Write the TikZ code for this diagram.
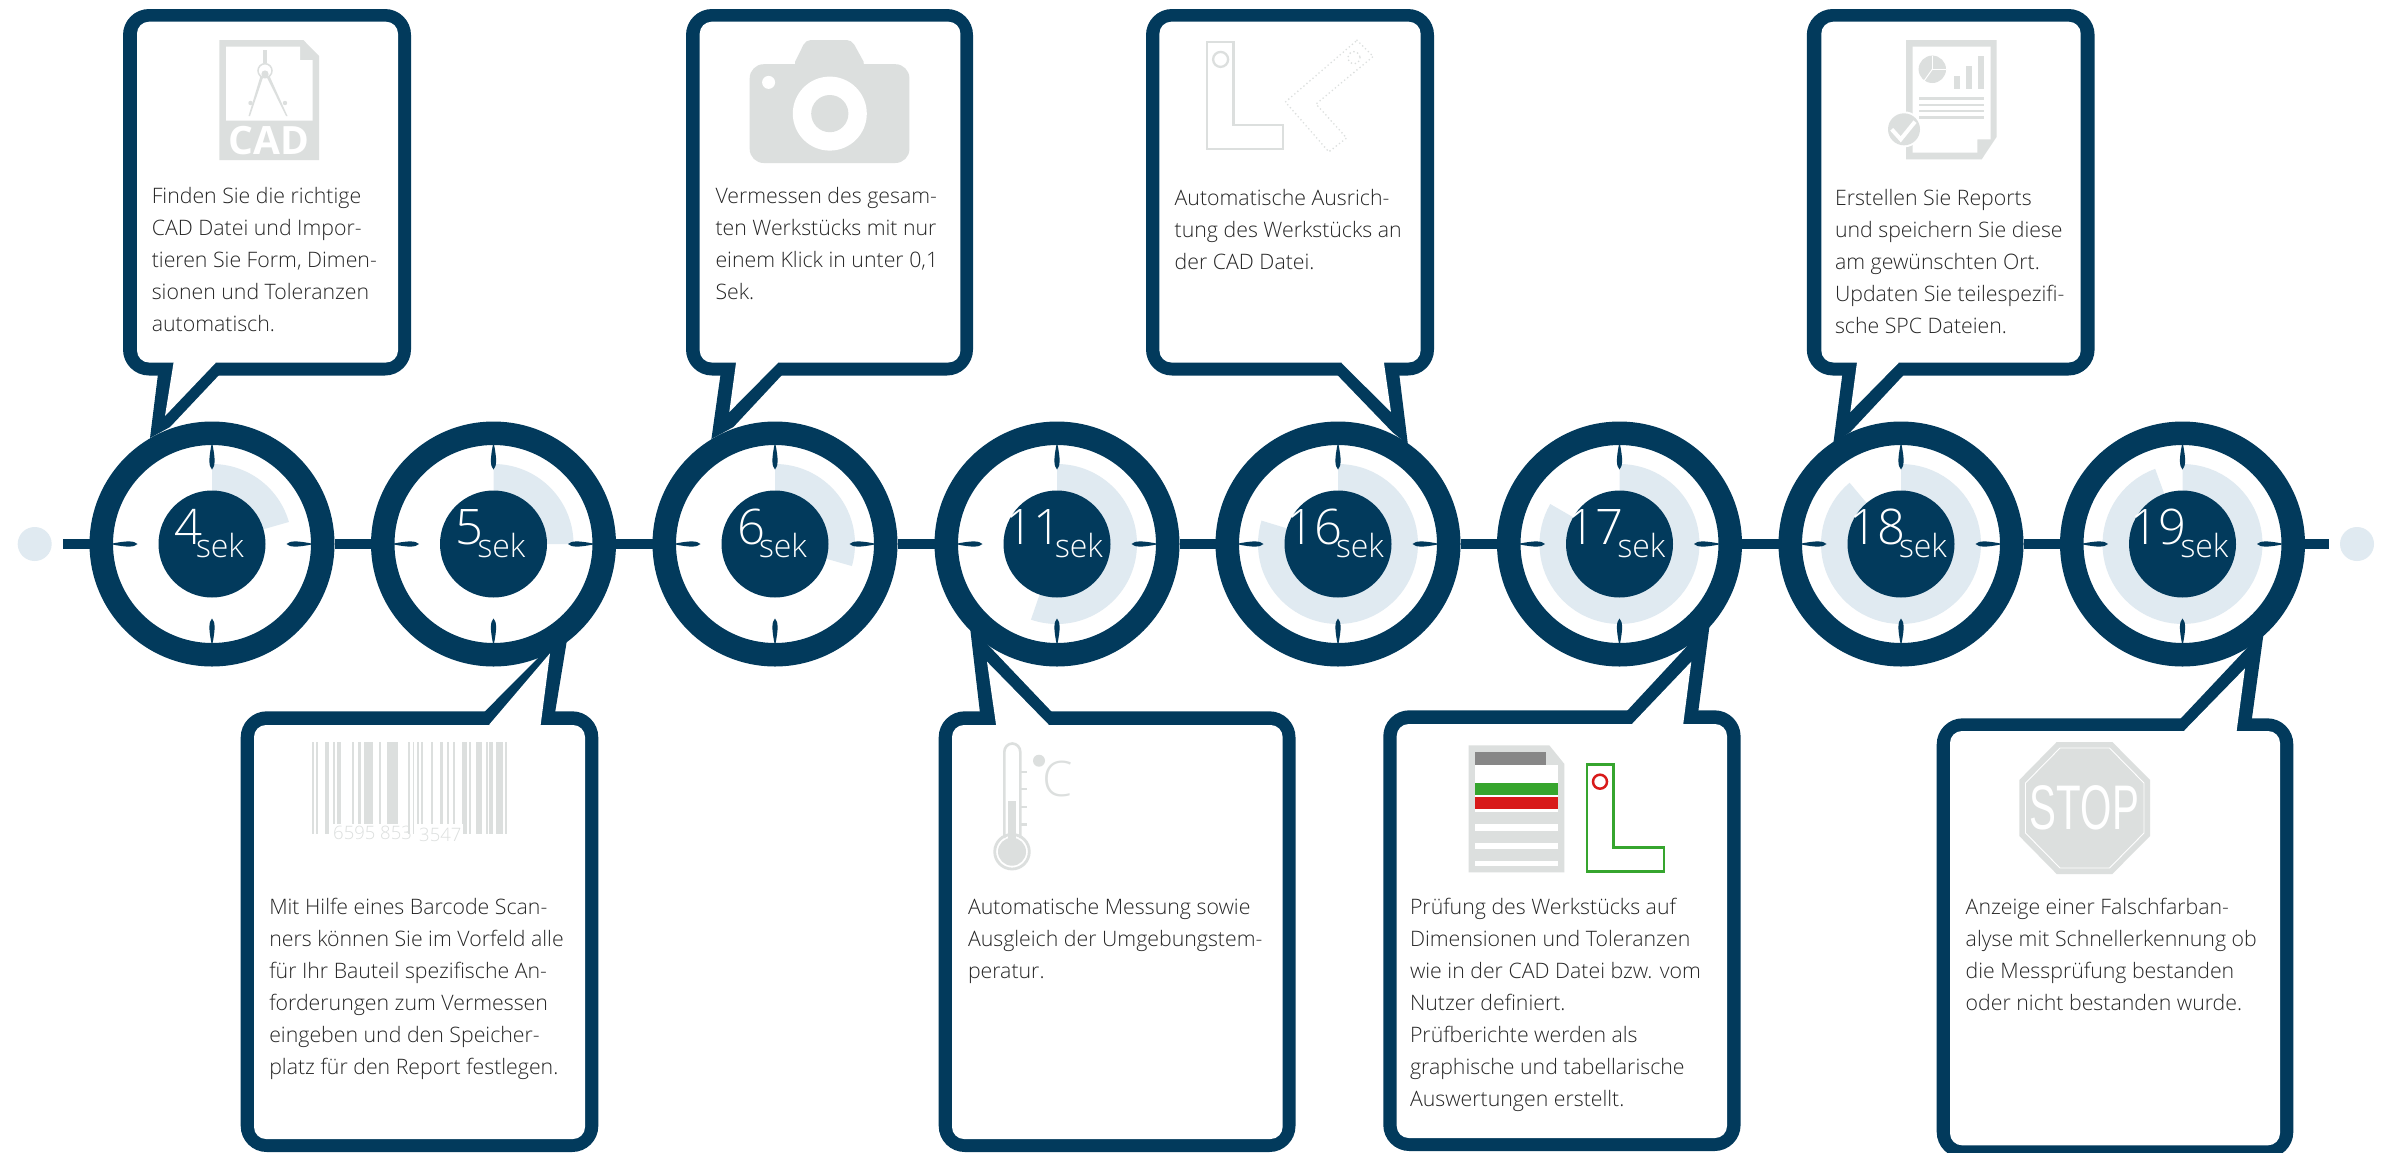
\documentclass[tikz,border=0pt]{standalone}
\usepackage{fontspec}
\setmainfont{Open Sans Light}
\newfontfamily\osbold{Open Sans Bold}
\newfontfamily\ossans{Liberation Sans}
\definecolor{navy}{HTML}{023A5C}
\definecolor{lightblue}{HTML}{E0EAF1}
\definecolor{icongray}{HTML}{DCDFDE}
\definecolor{bodygray}{HTML}{262626}
\definecolor{repgray}{HTML}{878787}
\definecolor{repgreen}{HTML}{36A52E}
\definecolor{repred}{HTML}{D81A1A}
\tikzset{
  ringnode/.style={circle,draw=navy,fill=white,line width=23.5pt,minimum size=221.5pt,inner sep=0pt},
  corenode/.style={circle,fill=navy,minimum size=107pt,inner sep=0pt,outer sep=0pt},
  enddot/.style={circle,fill=lightblue,minimum size=34pt,inner sep=0pt,outer sep=0pt},
  timeline/.style={draw=navy,line width=10.5pt},
  timetext/.style={anchor=base,text=white,inner sep=0pt},
  bodytext/.style={anchor=north west,align=left,inner sep=0pt,outer sep=0pt,text=bodygray,font=\fontsize{21.3}{32}\selectfont},
  iconfill/.style={fill=icongray},
  iconline/.style={draw=icongray,line width=2.3pt},
  icondots/.style={draw=icongray,line cap=round,dash pattern=on 0pt off 4pt,line width=1.8pt},
}
\newcommand{\callout}[9]{%
  \fill[navy,rounded corners=26pt] (#1,#2) rectangle (#3,#4);
  \fill[navy] #5 -- cycle;
  \fill[white,rounded corners=12pt] (#6,#7) rectangle (#8,#9);
}
\newcommand{\bodytxt}[4]{\node[bodytext] (#1) at (#2,#3-22) {\rule{0pt}{22pt}#4};}
\begin{document}
\begin{tikzpicture}[x=1pt,y=-1pt]
\useasboundingbox (0,0) rectangle (2386,1152);
\clip (0,0) rectangle (2386,1152);
\fill[white] (0,0) rectangle (2386,1152);

% ---------- callouts, top row
\callout{123}{9}{411}{375.5}{(158,374) -- (150,438) -- (170,427) -- (220,374)}{137}{21.7}{398}{362.5}
\fill[white] (173.5,350) -- (173.5,363) -- (165,416) -- (215.5,363) -- (215.5,350) -- cycle;
\callout{686}{9}{973}{375.5}{(720.6,374) -- (711.4,439) -- (733.4,427) -- (782.9,374)}{699.7}{21.7}{960.4}{362.5}
\fill[white] (736,350) -- (736,363) -- (729.3,412) -- (777.8,363) -- (777.8,350) -- cycle;
\callout{1146}{9}{1434}{375.5}{(1336.4,374) -- (1392.6,432.3) -- (1407.9,444.5) -- (1399.2,374)}{1159.4}{21.7}{1420.6}{362.5}
\fill[white] (1341.5,350) -- (1341.5,363) -- (1391,412) -- (1384,363) -- (1384,350) -- cycle;
\callout{1806.8}{9}{2094.6}{375.5}{(1842.4,374) -- (1833.4,443) -- (1850.3,432) -- (1904.6,374)}{1821.3}{21.7}{2080.7}{362.5}
\fill[white] (1856.9,350) -- (1856.9,363) -- (1850.3,412) -- (1898.5,363) -- (1898.5,350) -- cycle;

% ---------- callouts, bottom row
\callout{240.7}{711.3}{598.3}{1152}{(483.3,713) -- (540,656) -- (566.7,641.7) -- (555,713)}{254}{725}{585}{1139}
\fill[white] (489.3,735) -- (489.3,724.5) -- (550,653.3) -- (540.7,724.5) -- (540.7,735) -- cycle;
\callout{938.7}{711.3}{1295.5}{1152}{(1052.8,713) -- (989,646) -- (970,627) -- (980,713)}{952}{725}{1282.6}{1139}
\fill[white] (996,735) -- (996,724.5) -- (987,661.7) -- (1048.5,724.5) -- (1048.5,735) -- cycle;
\callout{1383.3}{710.3}{1740.6}{1151}{(1626,712) -- (1691.3,641.7) -- (1709.7,624.5) -- (1698.2,712)}{1396.7}{724}{1727}{1138}
\fill[white] (1632.4,735) -- (1632.4,723.5) -- (1691.3,661.7) -- (1683.3,723.5) -- (1683.3,735) -- cycle;
\callout{1936.7}{718.3}{2293.3}{1158}{(2179.3,720) -- (2248.3,646.7) -- (2263.5,634) -- (2251.7,720)}{1950}{731}{2280}{1145.3}
\fill[white] (2184.3,740) -- (2184.3,730.5) -- (2245,668.3) -- (2236.7,730.5) -- (2236.7,740) -- cycle;

% ---------- CAD icon
\fill[iconfill] (219.3,40) -- (303.3,40) -- (319,56) -- (319,160) -- (219.3,160) -- cycle;
\fill[white] (226,46.7) -- (300,46.7) -- (300,60) -- (312.7,60) -- (312.7,120.7) -- (226,120.7) -- cycle;
\fill[iconfill] (263.3,50) rectangle (267.3,63.3);
\draw[iconline,line width=1.5pt] (265,70.7) circle[radius=7];
\fill[iconfill] (265,74) circle[radius=3.6];
\fill[iconfill] (260.5,76) -- (263,77.5) -- (250,116) -- (248.5,116) -- cycle;
\fill[iconfill] (267,77.5) -- (269.5,76) -- (287.5,116) -- (286,116) -- cycle;
\fill[iconfill] (250.5,103) circle[radius=2.2];
\fill[iconfill] (285,103) circle[radius=2.2];
\node[anchor=base,text=white,inner sep=0pt] (cadlabel) at (269,154) {\osbold\fontsize{39}{39}\selectfont CAD};

% ---------- camera icon
\fill[iconfill,rounded corners=14pt] (749.7,64.2) rectangle (909.4,163);
\fill[iconfill,rounded corners=5pt] (793,66) -- (805.8,40) -- (851.7,40) -- (866,66) -- cycle;
\fill[white] (829.8,113.6) circle[radius=37];
\fill[iconfill] (829.8,113.6) circle[radius=18.6];
\fill[white] (768.6,82.4) circle[radius=6.5];

% ---------- part icon (16)
\draw[iconline] (1207.3,42) -- (1233.4,42) -- (1233.4,125) -- (1282.9,125) -- (1282.9,148.7) -- (1207.3,148.7) -- cycle;
\draw[iconline] (1220.6,59.4) circle[radius=7.5];
\draw[icondots] (1357,40.3) -- (1373.2,56.4) -- (1316,104) -- (1346.6,138) -- (1328.8,151.8) -- (1285.4,102) -- cycle;
\draw[icondots] (1354,57.7) circle[radius=6];

% ---------- report icon (18)
\fill[iconfill] (1906,40) -- (1996.7,40) -- (1996.7,136.7) -- (1981.7,159.3) -- (1906,159.3) -- cycle;
\fill[white] (1912.7,46.7) -- (1990.7,46.7) -- (1990.7,139.3) -- (1977.3,139.3) -- (1977.3,152.7) -- (1912.7,152.7) -- cycle;
\fill[iconfill] (1932.3,69.3) circle[radius=13.7];
\draw[white,line width=1pt] (1932.3,55.6) -- (1932.3,69.3) -- (1946,69.3);
\draw[white,line width=1pt] (1932.3,69.3) -- (1924,81);
\fill[iconfill] (1954,76) rectangle (1960,88.7);
\fill[iconfill] (1966,66) rectangle (1972,88.7);
\fill[iconfill] (1978,56) rectangle (1984,88.7);
\foreach \ly in {98.3,105,111,117.3} \fill[iconfill] (1919,\ly-1.25) rectangle (1984,\ly+1.25);
\fill[white] (1904,129.3) circle[radius=18];
\fill[iconfill] (1904,129.3) circle[radius=16];
\draw[white,line width=4pt] (1891.7,129.3) -- (1900.7,139.3) -- (1915,121.7);

% ---------- barcode icon (5)
\foreach \ba/\bb in {37/43,49/55,76/88,100/106,112/123,157/163,175/184,193/219,236/243,262/295,325/331,338/343,351/358,363/369,393/400,421/428,441/448,460/465,485/502,506/513,527/547,558/563,568/578,589/610,615/621}
  \fill[iconfill] ({300+\ba/3},742) rectangle ({300+\bb/3},833.7);
\fill[white] (331.7,823.7) rectangle (405,840);
\fill[white] (415,823.7) rectangle (463.3,845);
\node[anchor=base west,inner sep=0pt,text=icongray] (barnuma) at (333,839) {\fontsize{18.5}{18.5}\selectfont 6595 853};
\node[anchor=base west,inner sep=0pt,text=icongray] (barnumb) at (419,841) {\fontsize{18.5}{18.5}\selectfont 3547};

% ---------- thermometer icon (11)
\draw[iconline,line width=2.6pt] (1004.3,838) -- (1004.3,752) arc[start angle=180,end angle=0,x radius=8,y radius=-8.5] -- (1020.3,838);
\draw[iconline,line width=2.8pt] (1012,851.7) circle[radius=17.3];
\fill[iconfill] (1012,851.7) circle[radius=14];
\fill[iconfill] (1008.4,801) rectangle (1016.4,845);
\foreach \ty in {771.7,789,806.7,824.3} \draw[iconline,line width=2.4pt] (1021,\ty) -- (1027,\ty);
\fill[iconfill] (1039,760.7) circle[radius=6];
\node[anchor=base west,inner sep=0pt,text=icongray] (tempc) at (1042,796.7) {\fontsize{49}{49}\selectfont C};

% ---------- test report icon (17)
\fill[iconfill] (1468.5,745.3) -- (1549.3,745.3) -- (1564.4,764) -- (1564.4,872.3) -- (1468.5,872.3) -- cycle;
\fill[repgray] (1475.4,752) rectangle (1545.6,764.7);
\fill[white] (1475.4,765) rectangle (1558,811.7);
\fill[repgreen] (1475.4,783) rectangle (1558,795);
\fill[repred] (1475.4,797.3) rectangle (1558,809);
\fill[white] (1475.4,824.3) rectangle (1558,830.7);
\fill[white] (1475.4,843.3) rectangle (1558,849);
\fill[white] (1475.4,861) rectangle (1558,866);
\draw[draw=repgreen,line width=2.7pt] (1587,764.5) -- (1613.6,764.5) -- (1613.6,847.3) -- (1664,847.3) -- (1664,871.5) -- (1587,871.5) -- cycle;
\draw[draw=repred,line width=2.5pt] (1600,781.7) circle[radius=7];

% ---------- stop icon (19)
\fill[iconfill] (2056.7,742) -- (2112.3,742) -- (2150,780) -- (2150,836) -- (2112.3,874) -- (2056.7,874) -- (2019.3,836) -- (2019.3,780) -- cycle;
\draw[white,line width=0.9pt] (2060,748) -- (2109.5,748) -- (2144,783) -- (2144,833) -- (2109.5,868) -- (2060,868) -- (2025.5,833) -- (2025.5,783) -- cycle;
\node[anchor=base,inner sep=0pt,text=white,xscale=0.64] (stoplabel) at (2084.5,829) {\ossans\fontsize{63}{63}\selectfont STOP};

% ---------- body text
\bodytxt{t1}{151.8}{203}{Finden Sie die richtige\\CAD Datei und Impor-\\tieren Sie Form, Dimen-\\sionen und Toleranzen\\automatisch.}
\bodytxt{t3}{715.5}{203}{Vermessen des gesam-\\ten Werkstücks mit nur\\einem Klick in unter 0,1\\Sek.}
\bodytxt{t5}{1174.7}{205}{Automatische Ausrich-\\tung des Werkstücks an\\der CAD Datei.}
\bodytxt{t7}{1835}{205}{Erstellen Sie Reports\\und speichern Sie diese\\am gewünschten Ort.\\Updaten Sie teilespezifi-\\sche SPC Dateien.}
\bodytxt{t2}{269.3}{914}{Mit Hilfe eines Barcode Scan-\\ners können Sie im Vorfeld alle\\für Ihr Bauteil spezifische An-\\forderungen zum Vermessen\\eingeben und den Speicher-\\platz für den Report festlegen.}
\bodytxt{t4}{968}{914}{Automatische Messung sowie\\Ausgleich der Umgebungstem-\\peratur.}
\bodytxt{t6}{1410}{914}{Prüfung des Werkstücks auf\\Dimensionen und Toleranzen\\wie in der CAD Datei bzw. vom\\Nutzer definiert.\\Prüfberichte werden als\\graphische und tabellarische\\Auswertungen erstellt.}
\bodytxt{t8}{1965.7}{914}{Anzeige einer Falschfarban-\\alyse mit Schnellerkennung ob\\die Messprüfung bestanden\\oder nicht bestanden wurde.}

% ---------- rings
\foreach \i/\cx/\a/\n in {1/212/74/4,2/493.5/90/5,3/775/106/6,4/1057/199/11,5/1338/287/16,6/1619.5/300/17,7/1901/320/18,8/2182.5/340/19}{
  \node[ringnode] (c\i) at (\cx,544) {};
  \fill[lightblue] (\cx,544) -- plot[domain=0:\a,samples=70,variable=\ang] ({\cx+80*sin(\ang)},{544-80*cos(\ang)}) -- cycle;
  \foreach \r in {0,90,180,270}
    \fill[navy,shift={(\cx,544)},rotate=\r] (74.5,0) .. controls (78,3.4) and (85,3.4) .. (100,0.4) -- (100,-0.4) .. controls (85,-3.4) and (78,-3.4) .. (74.5,0) -- cycle;
  \node[corenode] (k\i) at (\cx,544) {};
  \node[timetext] (n\i) at (\cx-3,544) {\fontsize{49}{49}\selectfont\n\kern-6pt\raisebox{-13pt}{\fontsize{32}{32}\selectfont sek}};
}

% ---------- time line
\coordinate (tlstart) at (63,544);
\coordinate (tlend) at (2329,544);
\node[enddot] (dotl) at (34.7,544) {};
\node[enddot] (dotr) at (2357,544) {};
\draw[timeline] (tlstart) -- (c1);
\draw[timeline] (c1) -- (c2);
\draw[timeline] (c2) -- (c3);
\draw[timeline] (c3) -- (c4);
\draw[timeline] (c4) -- (c5);
\draw[timeline] (c5) -- (c6);
\draw[timeline] (c6) -- (c7);
\draw[timeline] (c7) -- (c8);
\draw[timeline] (c8) -- (tlend);
\end{tikzpicture}
\end{document}
